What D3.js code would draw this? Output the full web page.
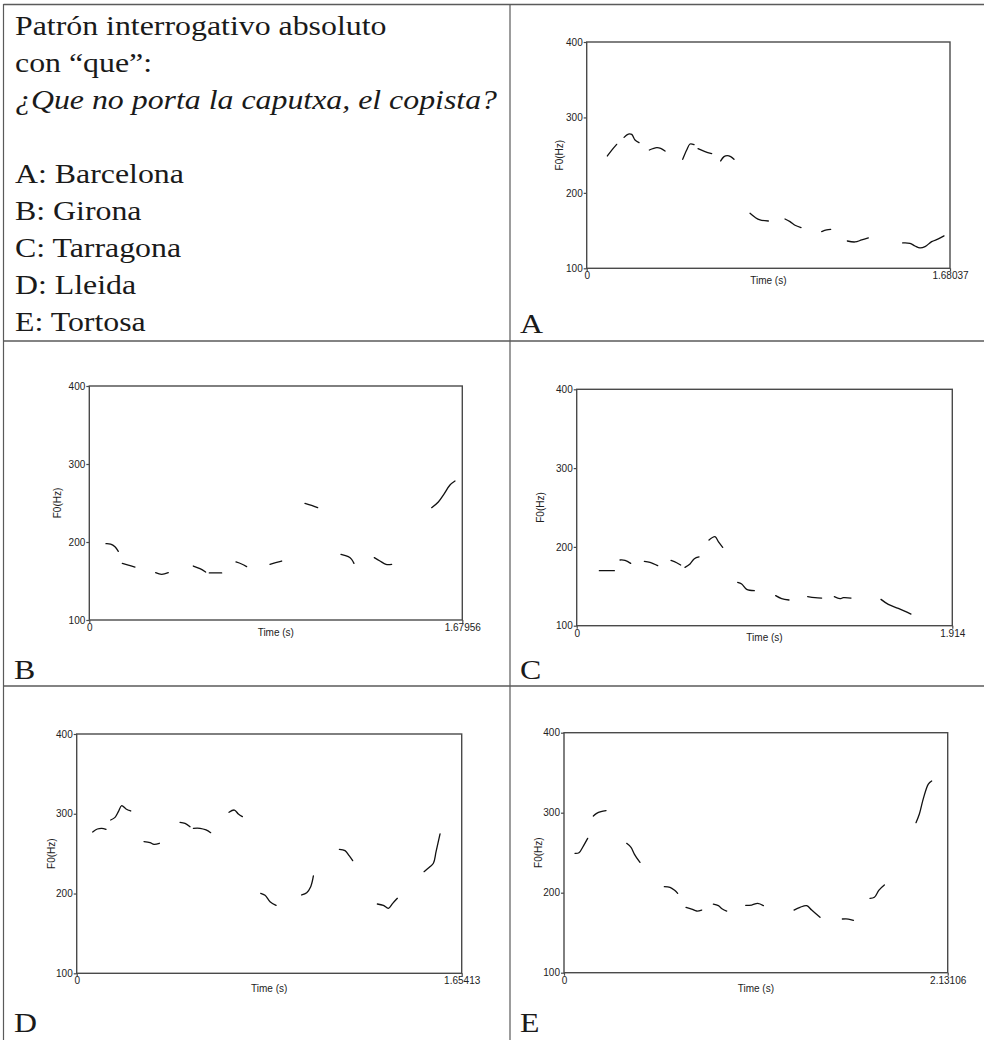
<!DOCTYPE html>
<html><head><meta charset="utf-8">
<script src="https://cdn.jsdelivr.net/npm/d3@7"></script>
<style>body{margin:0;background:#fff}svg{display:block}</style>
</head><body><svg id="c" width="984" height="1040"></svg>
<script>
// ---------- data ----------
const panelIds = ["A", "B", "C", "D", "E"];
const durations = [1.68037, 1.67956, 1.914, 1.65413, 2.13106];
const yTicks = [100, 200, 300, 400];
const yDomain = [100, 400];
const xAxisTitle = "Time (s)";
const yAxisTitle = "F0(Hz)";
const titleLines = ["Patrón interrogativo absoluto", "con “que”:"];
const sentence = "¿Que no porta la caputxa, el copista?";
const legendLines = ["A: Barcelona", "B: Girona", "C: Tarragona", "D: Lleida", "E: Tortosa"];

const contourA = [
  [[0.0956,248.9],[0.117,257],[0.1387,264.3]],
  [[0.1727,273.6],[0.1927,278],[0.2081,277.6],[0.2235,270.1],[0.2420,266.6]],
  [[0.2898,256.8],[0.3237,259.9],[0.3422,259.0],[0.3623,255.5]],
  [[0.444,244.5],[0.4625,256.8],[0.4779,264.8],[0.4964,263.9]],
  [[0.5149,258.6],[0.5473,254.6],[0.5781,252.0]],
  [[0.6197,242.3],[0.6351,248],[0.6506,249.3],[0.666,248],[0.6814,244.5]],
  [[0.7554,172.9],[0.7785,167.6],[0.8016,164.1],[0.8402,162.7]],
  [[0.9173,165.4],[0.9404,161.9],[0.9635,157],[0.9913,153.9]],
  [[1.0868,148.6],[1.1099,150.8],[1.1285,151.7]],
  [[1.2056,136.2],[1.2410,134.9],[1.2719,137.6],[1.3027,140.2]],
  [[1.4614,133.6],[1.4953,133.1],[1.5185,129.6],[1.5416,127.0],[1.5647,128.7],[1.5955,135.3],[1.6264,138.9],[1.6526,142.9]]
];
const contourB = [
  [[0.0751,197.9],[0.0961,197.4],[0.1156,194.0],[0.1306,188.0]],
  [[0.1486,172.6],[0.1756,170.5],[0.2056,167.9]],
  [[0.2987,160.7],[0.3257,158.5],[0.3557,160.7]],
  [[0.4683,169.2],[0.4983,165.8],[0.5238,161.5]],
  [[0.5404,160.3],[0.5959,160.3]],
  [[0.6604,174.4],[0.6859,171.8],[0.7085,168.4]],
  [[0.8135,171.4],[0.8436,174.0],[0.8661,175.6]],
  [[0.9711,249.6],[1.0011,247.0],[1.0282,244.0]],
  [[1.1333,184.2],[1.1663,181.2],[1.1813,177.8],[1.1918,172.6]],
  [[1.2833,179.9],[1.3089,175.6],[1.3359,171.4],[1.3614,171.4]],
  [[1.5415,244.0],[1.5716,251.3],[1.5971,261.5],[1.6241,273.1],[1.6466,278.2]]
];
const contourC = [
  [[0.1155,169.8],[0.1919,169.8]],
  [[0.2208,183.4],[0.2463,183.0],[0.2751,179.1]],
  [[0.3448,181.7],[0.3736,180.4],[0.4127,176.2]],
  [[0.4806,182.9],[0.5095,179.9],[0.5299,177.0]],
  [[0.5519,174.0],[0.5774,178.3],[0.5995,185.0],[0.6233,187.2]],
  [[0.6742,208.7],[0.7048,213.0],[0.7218,206.6],[0.7439,199.4]],
  [[0.8203,155.0],[0.8407,152.9],[0.8661,146.1],[0.9052,144.4]],
  [[1.0139,138.1],[1.0445,134.3],[1.0818,132.6]],
  [[1.1769,136.8],[1.2143,135.5],[1.2482,135.1]],
  [[1.3128,136.8],[1.3416,134.3],[1.3586,135.5],[1.3977,135.1]],
  [[1.5506,133.4],[1.5879,127.1],[1.6389,122.0],[1.7034,114.8]]
];
const contourD = [
  [[0.0687,277.2],[0.0888,280.9],[0.1074,281.8],[0.1260,280.5]],
  [[0.1461,292.2],[0.1647,295.5],[0.1790,302.6],[0.1933,310.2],[0.2120,306.0],[0.2320,303.5]],
  [[0.2893,265.0],[0.3151,263.8],[0.3323,261.7],[0.3552,263.0]],
  [[0.4440,289.3],[0.4655,288.0],[0.4870,283.8]],
  [[0.5013,281.8],[0.5299,281.8],[0.5557,279.7],[0.5757,276.3]],
  [[0.6545,301.8],[0.6774,304.7],[0.6946,299.7],[0.7118,296.4]],
  [[0.7906,200.3],[0.8092,197.8],[0.8307,189.8],[0.8565,185.2]],
  [[0.9667,198.2],[0.9882,201.1],[1.0054,208.6],[1.0169,222.0]],
  [[1.1286,255.4],[1.1529,253.8],[1.1714,247.1],[1.1858,241.2]],
  [[1.2918,186.9],[1.3176,185.2],[1.3391,181.5],[1.3577,187.7],[1.3777,194.0]],
  [[1.4924,227.4],[1.5152,232.9],[1.5325,237.9],[1.5440,252.5],[1.5611,274.7]]
];
const contourE = [
  [[0.0611,249.2],[0.0833,250.0],[0.1074,258.3],[0.1315,267.9]],
  [[0.1629,295.8],[0.1814,299.2],[0.2055,301.3],[0.2333,302.5]],
  [[0.3481,261.7],[0.3722,256.7],[0.3907,248.3],[0.4221,237.9]],
  [[0.5573,207.5],[0.5888,206.7],[0.6128,203.3],[0.6314,199.2]],
  [[0.6776,181.7],[0.7091,179.6],[0.7369,177.1],[0.7647,178.3]],
  [[0.8295,185.8],[0.8573,183.8],[0.8795,179.6],[0.9036,177.1]],
  [[1.0091,184.2],[1.0424,184.6],[1.0758,186.7],[1.1073,183.8]],
  [[1.2776,178.3],[1.3109,181.7],[1.3479,183.8],[1.3757,178.3],[1.4220,169.2]],
  [[1.5460,167.1],[1.5793,167.1],[1.6075,165.4]],
  [[1.6997,192.9],[1.7238,194.2],[1.7495,203.3],[1.7793,209.6]],
  [[1.9550,287.5],[1.9737,298.3],[1.9960,317.9],[2.0235,335.8],[2.0420,339.6]]
];
const contours = [contourA, contourB, contourC, contourD, contourE];

// ---------- layout (positions only) ----------
const layout = {
  A: {l:586.7, r:950,   t:42,    b:268.3, yl:559.3, tt:16, lx:520, ly:333},
  B: {l:89.3,  r:462.3, t:386,   b:620,   yl:57.3,  tt:16, lx:14,  ly:679},
  C: {l:576.7, r:952.3, t:389.3, b:625.7, yl:540,   tt:15, lx:520, ly:679},
  D: {l:76.7,  r:461.7, t:734,   b:973.3, yl:51.7,  tt:19, lx:14,  ly:1032},
  E: {l:564,   r:947.7, t:732.7, b:972.7, yl:538,   tt:19, lx:520, ly:1032}
};
const stretch = 1.18;

const svg = d3.select("#c");
const serif = "'Liberation Serif','Times New Roman',serif";
const sans = "'Liberation Sans',Arial,sans-serif";
const gridColor = "#5a5a5a";

// table grid
const grid = svg.append("g").attr("stroke", gridColor).attr("fill", "none");
grid.append("line").attr("x1", 3.5).attr("x2", 984).attr("y1", 4.5).attr("y2", 4.5).attr("stroke-width", 1.4);
grid.append("line").attr("x1", 3.5).attr("x2", 3.5).attr("y1", 4).attr("y2", 1040).attr("stroke-width", 1.2);
grid.append("line").attr("x1", 510).attr("x2", 510).attr("y1", 4).attr("y2", 1040).attr("stroke-width", 1.2);
grid.append("line").attr("x1", 3).attr("x2", 984).attr("y1", 341).attr("y2", 341).attr("stroke-width", 1.6);
grid.append("line").attr("x1", 3).attr("x2", 984).attr("y1", 686).attr("y2", 686).attr("stroke-width", 1.6);

// header text
const tx = svg.append("g").attr("transform", `translate(15,0) scale(${stretch},1)`)
  .attr("font-family", serif).attr("font-size", 27).attr("fill", "#1a1a1a");
titleLines.forEach((s, i) => tx.append("text").attr("x", 0).attr("y", 35 + i * 37).text(s));
tx.append("text").attr("x", 0).attr("y", 109).attr("font-style", "italic").text(sentence);
legendLines.forEach((s, i) => tx.append("text").attr("x", 0).attr("y", 183 + i * 37).text(s));

// panels
panelIds.forEach((id, i) => {
  const L = layout[id];
  const dur = durations[i];
  const x = d3.scaleLinear().domain([0, dur]).range([L.l, L.r]);
  const y = d3.scaleLinear().domain(yDomain).range([L.b, L.t]);
  const g = svg.append("g");

  g.append("rect").attr("x", L.l).attr("y", L.t).attr("width", L.r - L.l).attr("height", L.b - L.t)
    .attr("fill", "none").attr("stroke", "#4a4a4a").attr("stroke-width", 1.4);

  const ya = g.append("g").attr("transform", `translate(${L.l},0)`)
    .call(d3.axisLeft(y).tickValues(yTicks).tickSize(3).tickPadding(1).tickFormat(d3.format("d")));
  ya.select(".domain").remove();
  ya.selectAll("line").attr("stroke", "#4a4a4a").attr("stroke-width", 1.2);
  ya.selectAll("text").attr("font-family", sans).attr("font-size", 10).attr("fill", "#222");

  const xa = g.append("g").attr("transform", `translate(0,${L.b})`)
    .call(d3.axisBottom(x).tickValues([0, dur]).tickSize(3).tickPadding(1).tickFormat(d => String(d)));
  xa.select(".domain").remove();
  xa.selectAll("line").attr("stroke", "#4a4a4a").attr("stroke-width", 1.2);
  xa.selectAll("text").attr("font-family", sans).attr("font-size", 10).attr("fill", "#222");

  g.append("text").attr("x", (L.l + L.r) / 2).attr("y", L.b + L.tt).attr("text-anchor", "middle")
    .attr("font-family", sans).attr("font-size", 10).attr("fill", "#222").text(xAxisTitle);
  g.append("text").attr("transform", `translate(${L.yl},${(L.t + L.b) / 2}) rotate(-90)`)
    .attr("text-anchor", "middle").attr("dy", "0.35em")
    .attr("font-family", sans).attr("font-size", 10).attr("fill", "#222").text(yAxisTitle);

  const line = d3.line().x(d => x(d[0])).y(d => y(d[1])).curve(d3.curveCatmullRom.alpha(0.5));
  g.append("g").selectAll("path").data(contours[i]).join("path")
    .attr("d", line).attr("fill", "none").attr("stroke", "#111").attr("stroke-width", 1.3)
    .attr("stroke-linecap", "round").attr("stroke-linejoin", "round");

  svg.append("text").attr("transform", `translate(${L.lx},${L.ly}) scale(${stretch},1)`)
    .attr("font-family", serif).attr("font-size", 27).attr("fill", "#1a1a1a").text(id);
});
</script>
</body></html>
